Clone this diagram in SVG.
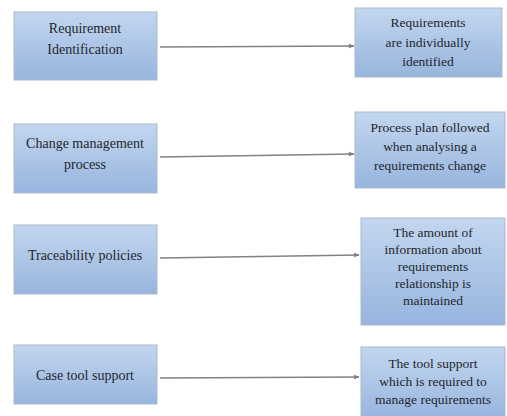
<svg xmlns="http://www.w3.org/2000/svg" width="507" height="416" viewBox="0 0 507 416">
  <defs>
    <linearGradient id="boxFill" x1="0" y1="0" x2="0" y2="1">
      <stop offset="0" stop-color="#c3d6ef"/>
      <stop offset="1" stop-color="#97b5de"/>
    </linearGradient>
    <marker id="arrow" viewBox="0 0 10 10" refX="9" refY="5" markerWidth="6" markerHeight="6" orient="auto" markerUnits="userSpaceOnUse">
      <path d="M0,1 L10,5 L0,9 z" fill="#7a7f86"/>
    </marker>
  </defs>
  <style>
    .box { fill: url(#boxFill); stroke: #a9b9cf; stroke-width: 1; }
    .lbl { font-family: "Liberation Serif", "Times New Roman", serif; font-size: 14px; fill: #23272d; text-anchor: middle; }
    .rl { font-size: 13.5px; }
    .conn { stroke: #7d8289; stroke-width: 1.6; fill: none; marker-end: url(#arrow); }
  </style>
  <rect width="507" height="416" fill="#ffffff"/>

  <g id="connectors">
    <line class="conn" x1="160" y1="47" x2="354" y2="46"/>
    <line class="conn" x1="160" y1="157" x2="354" y2="154"/>
    <line class="conn" x1="160" y1="258" x2="359" y2="255"/>
    <line class="conn" x1="160" y1="378" x2="359" y2="377"/>
  </g>

  <g id="n-req-id">
    <rect class="box" x="14" y="12" width="143" height="68"/>
    <text class="lbl" x="85" y="33">Requirement</text>
    <text class="lbl" x="85" y="54">Identification</text>
  </g>
  <g id="n-req-indiv">
    <rect class="box" x="355" y="8" width="147" height="69"/>
    <text class="lbl rl" x="428" y="27">Requirements</text>
    <text class="lbl rl" x="428" y="47">are individually</text>
    <text class="lbl rl" x="428" y="66">identified</text>
  </g>

  <g id="n-change-mgmt">
    <rect class="box" x="14" y="124" width="143" height="69"/>
    <text class="lbl" x="85" y="148">Change management</text>
    <text class="lbl" x="85" y="169">process</text>
  </g>
  <g id="n-process-plan">
    <rect class="box" x="355" y="112" width="150" height="76"/>
    <text class="lbl rl" x="430" y="132">Process plan followed</text>
    <text class="lbl rl" x="430" y="151">when analysing a</text>
    <text class="lbl rl" x="430" y="170">requirements change</text>
  </g>

  <g id="n-traceability">
    <rect class="box" x="14" y="225" width="143" height="69"/>
    <text class="lbl" x="85" y="260">Traceability policies</text>
  </g>
  <g id="n-info-amount">
    <rect class="box" x="361" y="218" width="144" height="107"/>
    <text class="lbl rl" x="433" y="237">The amount of</text>
    <text class="lbl rl" x="433" y="254">information about</text>
    <text class="lbl rl" x="433" y="271">requirements</text>
    <text class="lbl rl" x="433" y="288">relationship is</text>
    <text class="lbl rl" x="433" y="305">maintained</text>
  </g>

  <g id="n-case-tool">
    <rect class="box" x="14" y="345" width="143" height="59"/>
    <text class="lbl" x="85" y="380">Case tool support</text>
  </g>
  <g id="n-tool-support">
    <rect class="box" x="361" y="347" width="144" height="72"/>
    <text class="lbl rl" x="433" y="368">The tool support</text>
    <text class="lbl rl" x="433" y="386">which is required to</text>
    <text class="lbl rl" x="433" y="404">manage requirements</text>
  </g>
</svg>
